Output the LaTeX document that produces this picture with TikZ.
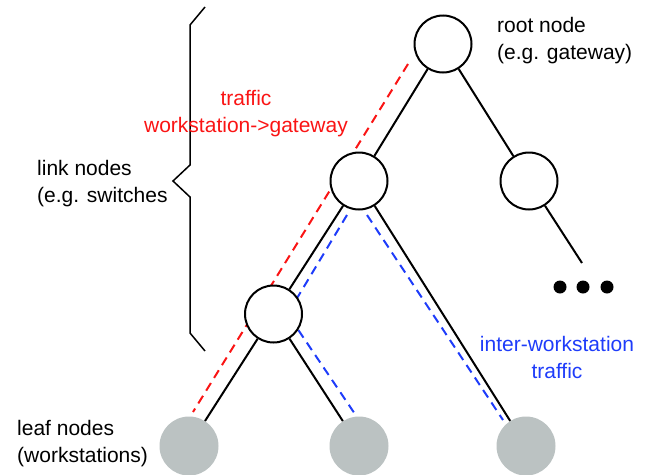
\documentclass[tikz,border=0pt]{standalone}
\usepackage{fontspec}
\setmainfont{Liberation Sans}
\definecolor{leafgray}{RGB}{187,194,194}
\definecolor{tred}{RGB}{250,20,20}
\definecolor{tblue}{RGB}{30,60,250}
\begin{document}
\begin{tikzpicture}[x=1pt,y=-1pt,
  inner/.style={circle,draw=black,line width=2pt,fill=white,minimum size=57pt,inner sep=0pt},
  leaf/.style={circle,fill=leafgray,minimum size=59pt,inner sep=0pt},
  edge/.style={draw=black,line width=2pt},
  redpath/.style={draw=tred,line width=2pt,dash pattern=on 9pt off 6pt},
  bluepath/.style={draw=tblue,line width=2pt,dash pattern=on 9pt off 6pt},
  lbl/.style={font=\fontsize{21}{27}\selectfont,inner sep=0pt},
  brace/.style={draw=black,line width=1.5pt},
  dot/.style={circle,fill=black,minimum size=13pt,inner sep=0pt}]
\useasboundingbox (0,0) rectangle (647,474);
% traffic paths (drawn below the nodes)
\coordinate (r1) at (408,64);
\coordinate (r2) at (193,412);
\coordinate (bA1) at (347,215);
\coordinate (bA2) at (287.5,314);
\coordinate (bA3) at (357,417);
\coordinate (bB1) at (367,215);
\coordinate (bB2) at (503,420);
\draw[redpath] (r1) -- (r2);
\draw[bluepath] (bA1) -- (bA2) -- (bA3);
\draw[bluepath] (bB1) -- (bB2);
% nodes
\node[inner] (root) at (443,44) {};
\node[inner] (mid) at (359,181) {};
\node[inner] (right) at (529,181) {};
\node[inner] (low) at (273.5,314) {};
\node[leaf] (leafA) at (189,446) {};
\node[leaf] (leafB) at (359,446) {};
\node[leaf] (leafC) at (526,446) {};
\coordinate (more) at (582,263);
% edges
\draw[edge] (root) -- (mid);
\draw[edge] (root) -- (right);
\draw[edge] (mid) -- (low);
\draw[edge] (mid) -- (leafC);
\draw[edge] (low) -- (leafA);
\draw[edge] (low) -- (leafB);
\draw[edge] (right) -- (more);
% ellipsis dots
\node[dot] (d1) at (560,287) {};
\node[dot] (d2) at (583,287) {};
\node[dot] (d3) at (607,287) {};
% brace
\coordinate (b1) at (205,7);
\coordinate (b2) at (190,25);
\coordinate (b3) at (190,165);
\coordinate (b4) at (173,181);
\coordinate (b5) at (190,197);
\coordinate (b6) at (190,333);
\coordinate (b7) at (205,351);
\draw[brace] (b1) -- (b2) -- (b3) -- (b4) -- (b5) -- (b6) -- (b7);
% labels (base anchor = baseline of the last line)
\node[lbl,anchor=base west,align=left] (rootlbl) at (497,59) {root node\\(e.g. gateway)};
\node[lbl,anchor=base west,align=left] (linklbl) at (37,202) {link nodes\\(e.g. switches};
\node[lbl,anchor=base west,align=left] (leaflbl) at (17,462) {leaf nodes\\(workstations)};
\node[lbl,anchor=base,align=center,text=tred] (redlbl) at (246,132) {traffic\\workstation->gateway};
\node[lbl,anchor=base,align=center,text=tblue] (bluelbl) at (557,378) {inter-workstation\\traffic};
\end{tikzpicture}
\end{document}
